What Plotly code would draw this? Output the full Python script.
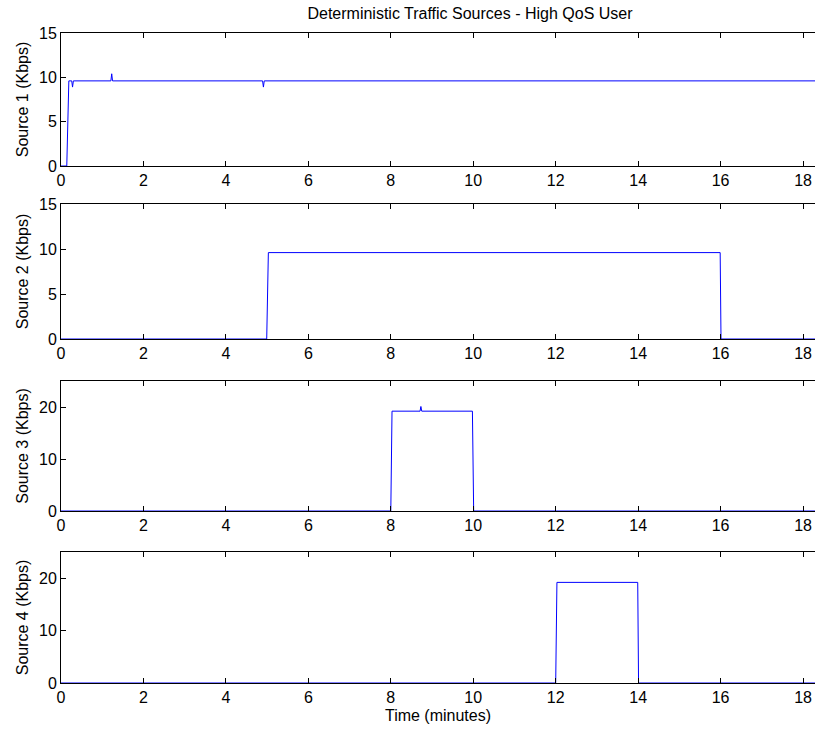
import plotly.graph_objects as go
from plotly.subplots import make_subplots

# Source 1 (Kbps)
t1 = [0, 0.14, 0.19, 0.26, 0.28, 0.30, 1.21, 1.23, 1.25, 4.89, 4.91, 4.93, 18.4]
s1 = [0, 0, 9.6, 9.6, 8.9, 9.6, 9.6, 10.4, 9.6, 9.6, 8.9, 9.6, 9.6]
# Source 2
t2 = [0, 4.99, 5.03, 15.99, 16.01, 18.4]
s2 = [0, 0, 9.6, 9.6, 0, 0]
# Source 3
t3 = [0, 8.0, 8.03, 8.71, 8.73, 8.75, 9.98, 10.01, 18.4]
s3 = [0, 0, 19.2, 19.2, 20.1, 19.2, 19.2, 0, 0]
# Source 4
t4 = [0, 12.0, 12.03, 13.99, 14.01, 18.4]
s4 = [0, 0, 19.2, 19.2, 0, 0]

series = [(t1, s1), (t2, s2), (t3, s3), (t4, s4)]
ylabels = ["Source 1 (Kbps)", "Source 2 (Kbps)", "Source 3 (Kbps)", "Source 4 (Kbps)"]
yranges = [[0, 15], [0, 15], [0, 25], [0, 25]]
ytickvals = [[0, 5, 10, 15], [0, 5, 10, 15], [0, 10, 20], [0, 10, 20]]
xticks = list(range(0, 19, 2))

H = 734
top, bot = 33, 51
ph = H - top - bot
pix = [(33, 166), (204, 339), (381, 511), (552, 683)]
domains = [[(H - bot - b) / ph, (H - bot - a) / ph] for a, b in pix]

fig = make_subplots(rows=4, cols=1)
font = dict(family="Liberation Sans, Arial, sans-serif", size=16, color="black")

for i, ((t, s), yl, yr, yt) in enumerate(zip(series, ylabels, yranges, ytickvals)):
    r = i + 1
    fig.add_trace(go.Scatter(x=t, y=s, mode="lines",
                             line=dict(color="#0000ff", width=1),
                             showlegend=False, hoverinfo="skip"), row=r, col=1)
    fig.update_xaxes(range=[0, 18.29], tickvals=xticks, ticks="inside", ticklen=5,
                     tickcolor="black", showline=True, linecolor="black", linewidth=1,
                     mirror="ticks", showgrid=False, zeroline=False,
                     tickfont=font, row=r, col=1)
    fig.update_yaxes(range=yr, tickvals=yt, ticks="inside", ticklen=5,
                     tickcolor="black", showline=True, linecolor="black", linewidth=1,
                     mirror=False, showgrid=False, zeroline=False,
                     tickfont=font, title=dict(text=yl, font=font, standoff=6),
                     domain=domains[i], row=r, col=1)

fig.update_xaxes(title=dict(text="Time (minutes)", font=font, standoff=4), row=4, col=1)

fig.update_layout(
    width=815, height=734,
    margin=dict(l=61, r=0, t=top, b=bot),
    paper_bgcolor="white", plot_bgcolor="white",
    title=dict(text="Deterministic Traffic Sources - High QoS User",
               x=470 / 815, xanchor="center", y=1 - 13 / 734, yanchor="middle",
               font=dict(family="Liberation Sans, Arial, sans-serif", size=16, color="black")),
    font=font,
)

fig.write_html("out.html")
